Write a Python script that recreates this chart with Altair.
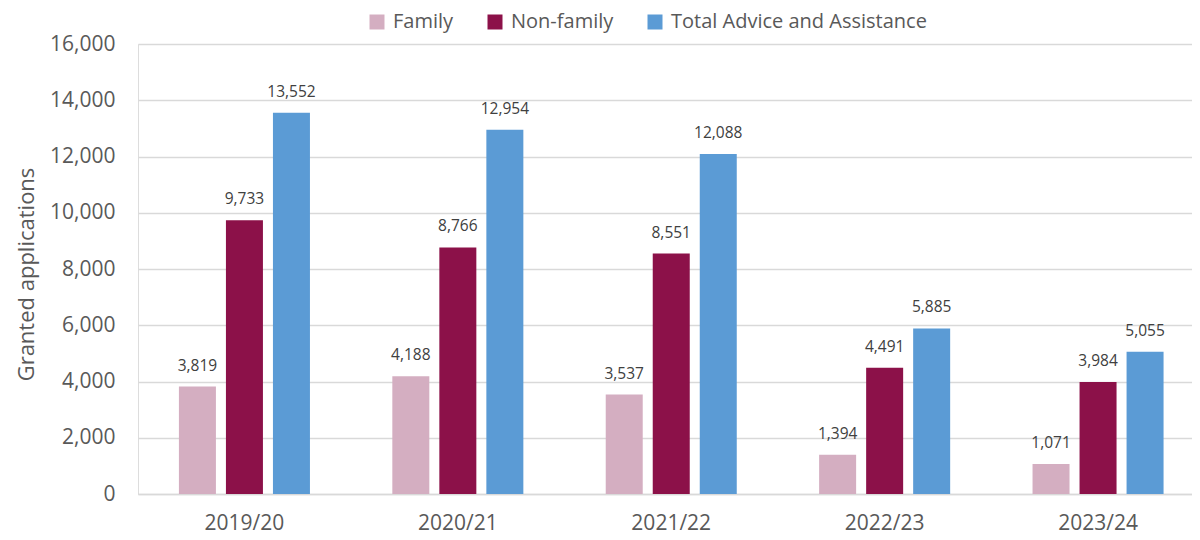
import altair as alt
import pandas as pd

years = ["2019/20", "2020/21", "2021/22", "2022/23", "2023/24"]
series = ["Family", "Non-family", "Total Advice and Assistance"]
family = [3819, 4188, 3537, 1394, 1071]
non_family = [9733, 8766, 8551, 4491, 3984]
total = [13552, 12954, 12088, 5885, 5055]
colors = ["#D4AEC1", "#8C1149", "#5B9BD5"]

rows = []
for vals, s in zip([family, non_family, total], series):
    for y, v in zip(years, vals):
        rows.append({"year": y, "series": s, "value": v})
df = pd.DataFrame(rows)

FONT = "Open Sans"
TXT = "#595959"

x = alt.X("year:N", sort=years, title=None,
          scale=alt.Scale(paddingInner=0.386, paddingOuter=0.1625, align=0.59),
          axis=alt.Axis(labelAngle=0, labelFontSize=21, labelColor=TXT, labelFont=FONT,
                        labelPadding=18, ticks=False, domainColor="#D9D9D9",
                        domainWidth=1.5, grid=False))
xo = alt.XOffset("series:N", sort=series,
                 scale=alt.Scale(paddingInner=0.213, paddingOuter=0))
y = alt.Y("value:Q", title="Granted applications",
          scale=alt.Scale(domain=[0, 16000], nice=False),
          axis=alt.Axis(values=list(range(0, 16001, 2000)), format=",.0f",
                        labelFontSize=21, labelColor=TXT, labelFont=FONT,
                        labelPadding=23, ticks=False, domain=False,
                        gridColor="#D9D9D9", gridWidth=1.5,
                        titleFontSize=22, titleColor=TXT, titleFont=FONT,
                        titleFontWeight="normal", titleAngle=-90,
                        titleX=-112, titleY=230, titleAlign="center",
                        titleBaseline="middle"))

bars = alt.Chart(df).mark_bar().encode(
    x=x, xOffset=xo, y=y,
    color=alt.Color("series:N", sort=series,
                    scale=alt.Scale(domain=series, range=colors),
                    legend=alt.Legend(title=None, orient="none", direction="horizontal",
                                      legendX=229, legendY=-32,
                                      symbolType="square", symbolSize=225,
                                      symbolStrokeWidth=0, labelLimit=500,
                                      labelFontSize=20, labelColor=TXT, labelFont=FONT,
                                      labelOffset=6, columnPadding=31)),
)

labels = alt.Chart(df).mark_text(baseline="alphabetic", dy=-16, fontSize=15.5,
                                 font=FONT, color="#404040").encode(
    x=x, xOffset=xo, y=y,
    text=alt.Text("value:Q", format=","),
)

chart = alt.layer(bars, labels).properties(
    width=1054, height=450,
    autosize=alt.AutoSizeParams(type="none"),
    padding={"left": 130, "top": 36, "right": 0, "bottom": 46},
).configure_view(stroke=None).configure(background="white")

chart.save("out.html", embed_options={"renderer": "svg", "actions": False})
